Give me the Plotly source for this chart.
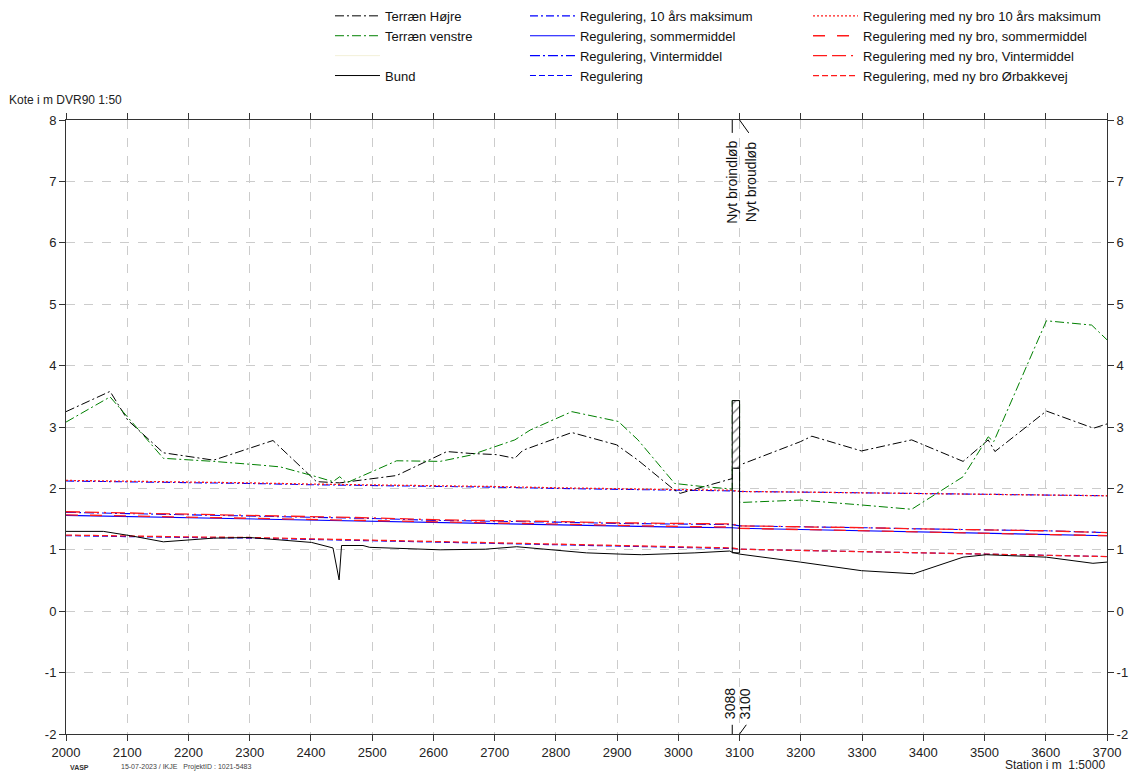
import plotly.graph_objects as go

# ---------------- data ----------------
st_hojre = [2000, 2072, 2101, 2159, 2241, 2338, 2409, 2447, 2540, 2622,
            2660, 2703, 2733, 2746, 2826, 2899, 2934, 2994, 3003, 3043,
            3088, 3088, 3100, 3100, 3199, 3218, 3299, 3381, 3465, 3506,
            3517, 3601, 3678, 3700]
terr_hojre = [3.25, 3.58, 3.11, 2.58, 2.46, 2.78, 2.11, 2.09, 2.21, 2.60,
              2.57, 2.55, 2.49, 2.62, 2.91, 2.71, 2.46, 1.97, 1.92, 2.03,
              2.16, 2.33, 2.33, 2.38, 2.76, 2.85, 2.61, 2.79, 2.44, 2.79,
              2.60, 3.26, 2.98, 3.05]

st_venstre = [2000, 2072, 2159, 2241, 2317, 2350, 2409, 2436, 2447, 2458,
              2540, 2611, 2660, 2733, 2758, 2826, 2845, 2902, 2934, 2994,
              3040, 3088, 3088, 3100, 3100, 3199, 3299, 3381, 3465, 3506,
              3515, 3601, 3675, 3700]
terr_venstre = [3.08, 3.49, 2.49, 2.44, 2.38, 2.35, 2.19, 2.11, 2.19, 2.09,
                2.45, 2.44, 2.54, 2.79, 2.95, 3.25, 3.21, 3.09, 2.79, 2.08,
                2.03, 1.99, 3.43, 3.43, 1.77, 1.81, 1.73, 1.66, 2.19, 2.84,
                2.76, 4.73, 4.66, 4.42]

st_bund = [2000, 2061, 2105, 2159, 2241, 2300, 2401, 2436, 2446, 2450,
           2485, 2496, 2611, 2685, 2736, 2760, 2801, 2850, 2905, 2940,
           3027, 3084, 3088, 3100, 3199, 3299, 3384, 3465, 3503, 3601,
           3677, 3700]
bund = [1.30, 1.30, 1.23, 1.13, 1.19, 1.20, 1.12, 1.03, 0.51, 1.07,
        1.07, 1.04, 1.00, 1.01, 1.05, 1.03, 0.99, 0.95, 0.93, 0.92,
        0.95, 0.98, 0.96, 0.93, 0.80, 0.66, 0.61, 0.88, 0.92, 0.88,
        0.78, 0.80]

reg_st = [2000, 2100, 2200, 2300, 2400, 2500, 2600, 2700, 2800, 2900,
          3000, 3088, 3100, 3200, 3300, 3400, 3500, 3600, 3700]
max_blue = [2.12, 2.11, 2.10, 2.08, 2.06, 2.05, 2.03, 2.02, 2.00, 1.98,
            1.97, 1.96, 1.95, 1.94, 1.93, 1.92, 1.91, 1.89, 1.88]
max_red = [2.13, 2.12, 2.11, 2.09, 2.07, 2.06, 2.04, 2.03, 2.01, 1.99,
           1.98, 1.97, 1.95, 1.94, 1.93, 1.92, 1.91, 1.89, 1.88]
sommer_blue = [1.56, 1.54, 1.53, 1.51, 1.49, 1.47, 1.44, 1.42, 1.40, 1.38,
               1.37, 1.36, 1.35, 1.33, 1.31, 1.29, 1.28, 1.26, 1.23]
sommer_red = [1.57, 1.55, 1.54, 1.52, 1.50, 1.48, 1.45, 1.43, 1.41, 1.39,
              1.38, 1.37, 1.35, 1.33, 1.31, 1.29, 1.28, 1.26, 1.23]
vinter_blue = [1.61, 1.59, 1.58, 1.56, 1.53, 1.51, 1.48, 1.47, 1.45, 1.43,
               1.42, 1.41, 1.39, 1.38, 1.36, 1.34, 1.33, 1.31, 1.28]
vinter_red = [1.62, 1.60, 1.59, 1.57, 1.54, 1.52, 1.49, 1.48, 1.46, 1.44,
              1.43, 1.42, 1.39, 1.38, 1.36, 1.34, 1.33, 1.31, 1.28]
reg_blue = [1.23, 1.21, 1.20, 1.19, 1.17, 1.15, 1.12, 1.10, 1.08, 1.06,
            1.04, 1.02, 1.01, 0.99, 0.97, 0.95, 0.93, 0.91, 0.89]
reg_red = [1.24, 1.22, 1.21, 1.20, 1.18, 1.16, 1.13, 1.11, 1.09, 1.07,
           1.05, 1.03, 1.01, 0.99, 0.97, 0.95, 0.93, 0.91, 0.89]

bridge_st = [3088, 3100]
bridge_bottom = 0.95
bridge_deck_low = 2.33
bridge_deck_top = 3.43
bridge_labels_top = ["Nyt broindløb", "Nyt broudløb"]
bridge_labels_bottom = ["3088", "3100"]

x_ticks = list(range(2000, 3701, 100))
y_ticks = list(range(-2, 9))
y_tick_labels = ["-2", "-1", "0", "1", "2", "3", "4", "5", "6", "7", "8"]

FONT = "Liberation Sans, Arial, sans-serif"
BLUE = "#0000ff"
RED = "#ff1a1a"
DASHDOT = "9px,3px,2px,3px"

fig = go.Figure()


def line(x, y, name, color, dash, legend, rank, width=1.0, show=True):
    fig.add_trace(go.Scatter(
        x=x, y=y, mode="lines", name=name,
        line=dict(color=color, dash=dash, width=width),
        legend=legend, legendrank=rank, showlegend=show, hoverinfo="skip"))


# regulation lines
line(reg_st, max_blue, "Regulering, 10 års maksimum", BLUE, "8px,3px,2px,3px", "legend2", 1, 1.1)
line(reg_st, sommer_blue, "Regulering, sommermiddel", BLUE, "solid", "legend2", 2, 1.1)
line(reg_st, vinter_blue, "Regulering, Vintermiddel", BLUE, "10px,3px,2px,3px", "legend2", 3, 1.1)
line(reg_st, reg_blue, "Regulering", BLUE, "6px,3px", "legend2", 4, 1.1)
line(reg_st, max_red, "Regulering med ny bro 10 års maksimum", RED, "2px,2px", "legend3", 1, 1.3)
line(reg_st, sommer_red, "Regulering med ny bro, sommermiddel", RED, "12px,12px", "legend3", 2, 1.3)
line(reg_st, vinter_red, "Regulering med ny bro, Vintermiddel", RED, "14px,5px,14px,5px,2px,5px", "legend3", 3, 1.3)
line(reg_st, reg_red, "Regulering, med ny bro Ørbakkevej", RED, "6px,3px", "legend3", 4, 1.3)

# terrain and bottom
line(st_hojre, terr_hojre, "Terræn Højre", "#000000", DASHDOT, "legend", 1)
line(st_venstre, terr_venstre, "Terræn venstre", "#008000", DASHDOT, "legend", 2)
line([None], [None], " ", "#f3f0d8", "solid", "legend", 3)
line(st_bund, bund, "Bund", "#000000", "solid", "legend", 4)

# bridge
fig.add_trace(go.Scatter(
    x=[bridge_st[0], bridge_st[1], bridge_st[1], bridge_st[0], bridge_st[0]],
    y=[bridge_deck_low, bridge_deck_low, bridge_deck_top, bridge_deck_top, bridge_deck_low],
    mode="lines", fill="toself", fillcolor="white",
    fillpattern=dict(shape="/", fgcolor="black", bgcolor="white", size=7, solidity=0.2),
    line=dict(color="black", width=1), showlegend=False, hoverinfo="skip"))
fig.add_trace(go.Scatter(
    x=[bridge_st[0], bridge_st[0], None, bridge_st[1], bridge_st[1], None, bridge_st[0], bridge_st[1]],
    y=[bridge_bottom, bridge_deck_low, None, bridge_bottom, bridge_deck_low, None, bridge_bottom, bridge_bottom],
    mode="lines", line=dict(color="black", width=1), showlegend=False, hoverinfo="skip"))

# invisible trace for right axis
fig.add_trace(go.Scatter(x=[2000, 3700], y=[-2, 8], yaxis="y2", mode="lines",
                         line=dict(width=0, color="rgba(0,0,0,0)"), showlegend=False, hoverinfo="skip"))

# bridge labels & leaders
top_shift = [-1, 11]
bot_shift = [-2, 5]
for i, (s, lab) in enumerate(zip(bridge_st, bridge_labels_top)):
    fig.add_annotation(x=s, y=6.98, xref="x", yref="y", text=lab, textangle=-90,
                       showarrow=False, xshift=top_shift[i],
                       font=dict(family=FONT, size=14, color="#111"))
for i, (s, lab) in enumerate(zip(bridge_st, bridge_labels_bottom)):
    fig.add_annotation(x=s, y=-1.51, xref="x", yref="y", text=lab, textangle=-90,
                       showarrow=False, xshift=bot_shift[i],
                       font=dict(family=FONT, size=14, color="#111"))
fig.add_shape(type="line", x0=bridge_st[0], x1=bridge_st[0], y0=8, y1=7.79, xref="x", yref="y",
              line=dict(color="black", width=1))
fig.add_shape(type="line", x0=bridge_st[1], x1=bridge_st[1] + 15, y0=8, y1=7.79, xref="x", yref="y",
              line=dict(color="black", width=1))
fig.add_shape(type="line", x0=bridge_st[0], x1=bridge_st[0], y0=-2, y1=-1.85, xref="x", yref="y",
              line=dict(color="black", width=1))
fig.add_shape(type="line", x0=bridge_st[1], x1=bridge_st[1] + 11, y0=-2, y1=-1.85, xref="x", yref="y",
              line=dict(color="black", width=1))

# texts
fig.add_annotation(x=-0.0567, y=1.0326, xref="paper", yref="paper", xanchor="left", yanchor="middle",
                   text="Kote i m DVR90 1:50", showarrow=False, font=dict(family=FONT, size=12, color="#222"))
fig.add_annotation(x=1.0, y=-0.0505, xref="paper", yref="paper", xanchor="right", yanchor="middle",
                   text="Station i m  1:5000", showarrow=False, font=dict(family=FONT, size=12, color="#222"))
fig.add_annotation(x=0.0019, y=-0.0545, xref="paper", yref="paper", xanchor="left", yanchor="middle",
                   text="<b>VASP</b>", showarrow=False, font=dict(family=FONT, size=7, color="#333"))
fig.add_annotation(x=0.051, y=-0.0545, xref="paper", yref="paper", xanchor="left", yanchor="middle",
                   text="15-07-2023 / IKJE   ProjektID : 1021-5483", showarrow=False,
                   font=dict(family=FONT, size=7, color="#444"))

axis_common = dict(
    showline=True, linecolor="#333", linewidth=1,
    ticks="outside", ticklen=6, tickcolor="#333",
    tickfont=dict(family=FONT, size=13, color="#222"),
    zeroline=False,
)

legend_common = dict(orientation="v", yanchor="top", xanchor="left", bgcolor="rgba(0,0,0,0)",
                     font=dict(family=FONT, size=13, color="#111"), itemwidth=45,
                     traceorder="normal", tracegroupgap=0)

fig.update_layout(
    width=1138, height=771,
    margin=dict(l=66, r=31, t=120, b=37, autoexpand=False),
    paper_bgcolor="white", plot_bgcolor="white",
    showlegend=True,
    xaxis=dict(range=[2000, 3700], tickvals=x_ticks, mirror="ticks",
               showgrid=True, gridcolor="#cccccc", griddash="dash", gridwidth=1, **axis_common),
    yaxis=dict(range=[-2, 8], tickvals=y_ticks, ticktext=y_tick_labels,
               showgrid=True, gridcolor="#cccccc", griddash="dash", gridwidth=1, **axis_common),
    yaxis2=dict(range=[-2, 8], tickvals=y_ticks, ticktext=y_tick_labels, overlaying="y", side="right",
                showgrid=False, **axis_common),
    legend=dict(x=0.2536, y=1.194, **legend_common),
    legend2=dict(x=0.4409, y=1.194, **legend_common),
    legend3=dict(x=0.7128, y=1.194, **legend_common),
)

fig.write_html("out.html", config={"displayModeBar": False},
               post_script="document.body.style.margin='0px';document.body.style.overflow='hidden';")
